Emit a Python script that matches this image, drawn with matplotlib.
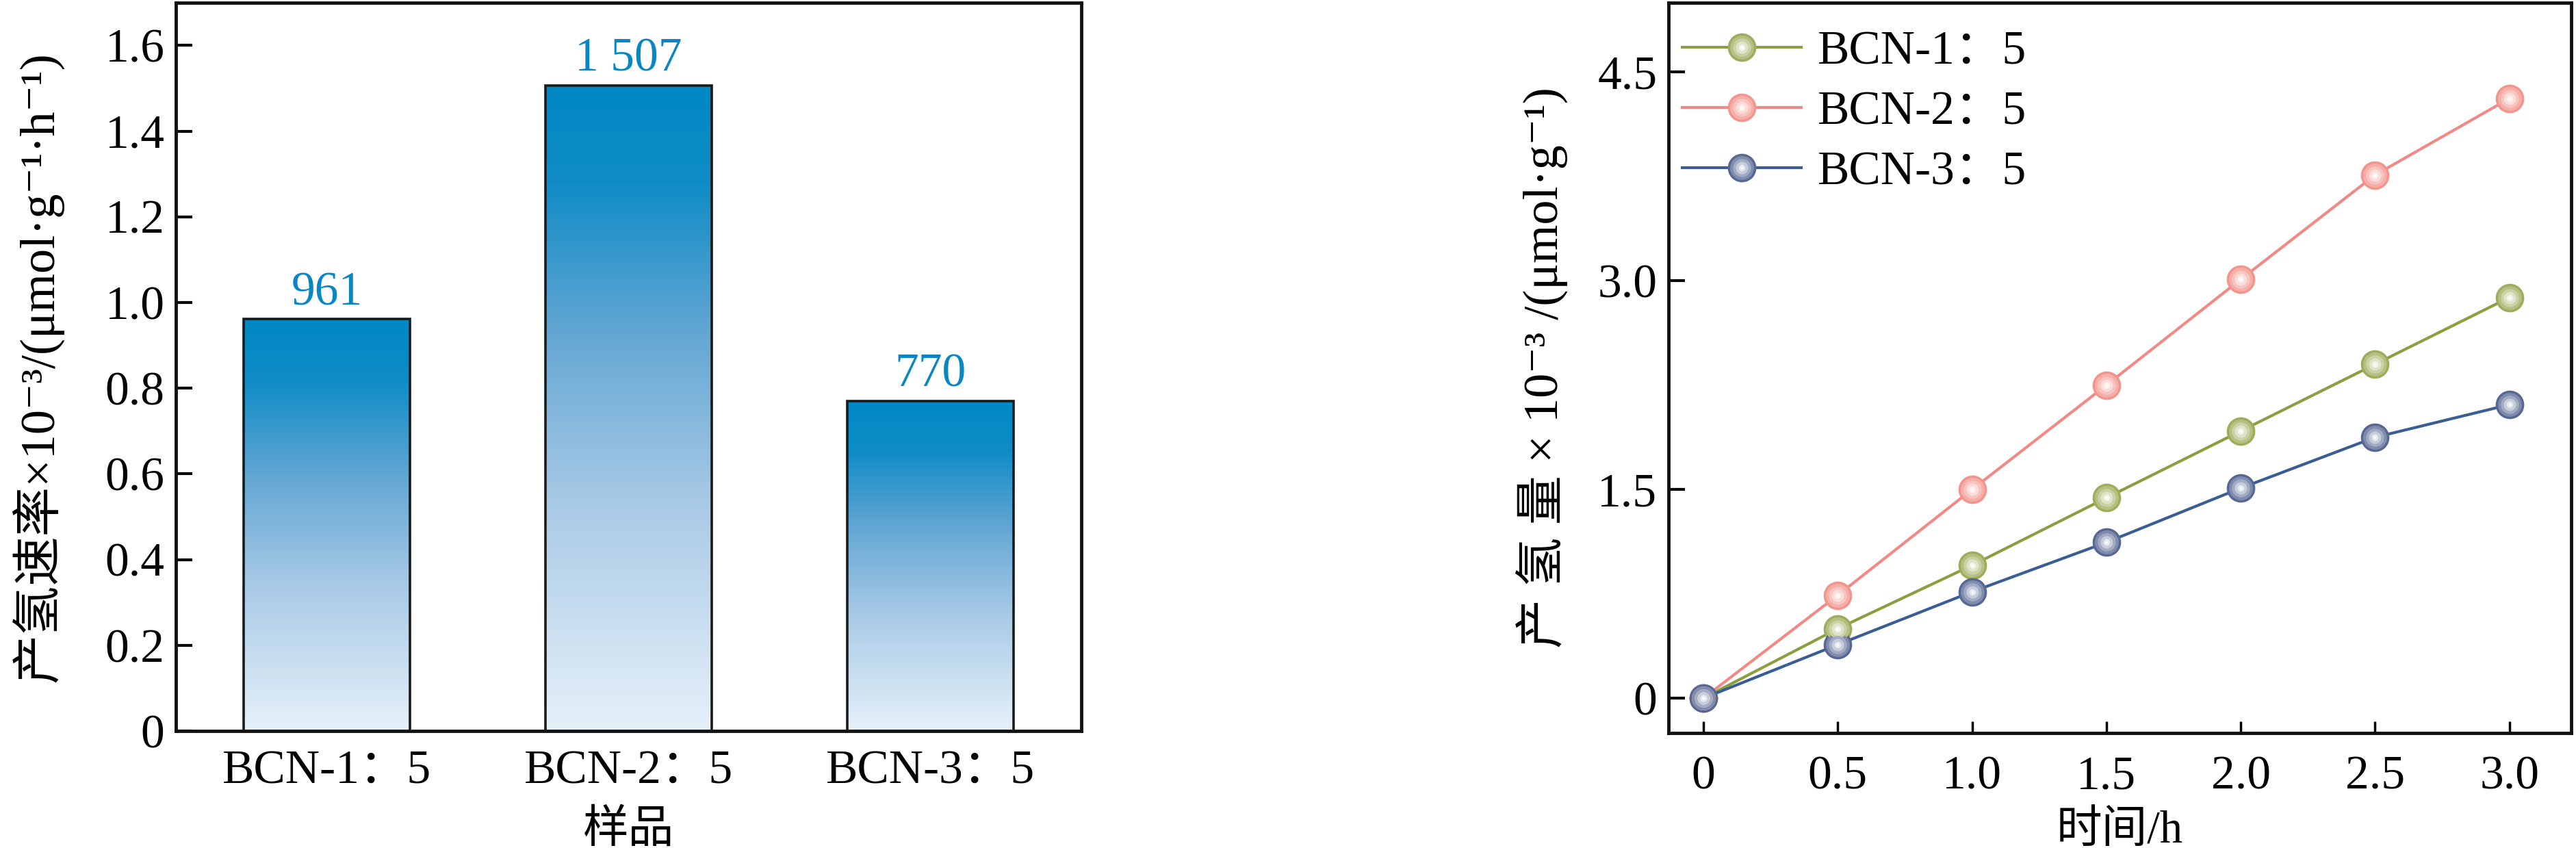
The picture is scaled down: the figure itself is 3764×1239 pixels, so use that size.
import numpy as np
import matplotlib
matplotlib.use("Agg")
import matplotlib.pyplot as plt
from matplotlib.colors import LinearSegmentedColormap, to_rgb
from matplotlib.legend_handler import HandlerTuple

plt.rcParams['font.family'] = ['Liberation Serif', 'Noto Sans CJK SC', 'DejaVu Serif']
plt.rcParams['axes.unicode_minus'] = False

# bar chart data
samples = ['BCN-1：5', 'BCN-2：5', 'BCN-3：5']
rates = [0.961, 1.507, 0.770]
rate_labels = ['961', '1 507', '770']

# hydrogen evolution vs time
hours = [0, 0.5, 1.0, 1.5, 2.0, 2.5, 3.0]
bcn1 = [0, 0.50, 0.955, 1.44, 1.92, 2.40, 2.88]
bcn2 = [0, 0.74, 1.50, 2.25, 3.01, 3.76, 4.31]
bcn3 = [0, 0.385, 0.765, 1.12, 1.51, 1.875, 2.11]
series_names = ['BCN-1：5', 'BCN-2：5', 'BCN-3：5']

line_colors = ['#8aa040', '#f08a86', '#3a5d92']
ball_colors = ['#a3b063', '#f29a92', '#5f6f99']

fig = plt.figure(figsize=(37.64, 12.39), dpi=100)
ax1 = fig.add_axes([0.0683, 0.138, 0.3515, 0.859])
ax2 = fig.add_axes([0.6477, 0.1356, 0.3504, 0.8614])

tick_fs = 50
label_fs = 48

# ---- left: bars with vertical gradient ----
grad_cmap = LinearSegmentedColormap.from_list(
    'bluegrad',
    [(0.0, '#e6f1f9'), (0.35, '#a9cae6'), (0.62, '#62a6d3'),
     (0.85, '#0f8cc6'), (1.0, '#0088c4')])
x = np.arange(len(samples))
bars = ax1.bar(x, rates, width=0.55, facecolor='none', edgecolor='#1a1a1a',
               linewidth=2.6, zorder=3)
grad = np.linspace(0, 1, 256).reshape(-1, 1)
for b in bars:
    bx, by, bw, bh = b.get_x(), b.get_y(), b.get_width(), b.get_height()
    im = ax1.imshow(grad, cmap=grad_cmap, origin='lower', aspect='auto',
                    extent=[bx, bx + bw, by, by + bh], zorder=2)
    im.set_clip_path(b)

for xi, v, lab in zip(x, rates, rate_labels):
    ax1.text(xi, v + 0.01, lab, ha='center', va='bottom', color='#0a86c2',
             fontsize=tick_fs)

ax1.set_xlim(-0.5, 2.5)
ax1.set_ylim(0, 1.7)
ax1.set_xticks(x)
ax1.set_xticklabels(samples)
ax1.set_yticks(np.arange(0, 1.61, 0.2))
ax1.set_yticklabels(['0'] + [f'{v:.1f}' for v in np.arange(0.2, 1.61, 0.2)])
ax1.tick_params(axis='y', direction='in', length=17, width=3, labelsize=tick_fs, pad=12)
ax1.tick_params(axis='x', length=0, labelsize=tick_fs, pad=20)
ax1.set_xlabel('样品', fontsize=label_fs, labelpad=17)
ax1.set_ylabel('产氢速率×10⁻³/(μmol·g⁻¹·h⁻¹)', fontsize=52, labelpad=44)

# ---- right: lines with ball markers ----
def mix(c, t):
    r = np.array(to_rgb(c))
    return tuple(r + (1 - r) * t)

handles = []
for ys, lc, bc, name in zip([bcn1, bcn2, bcn3], line_colors, ball_colors, series_names):
    base, = ax2.plot(hours, ys, color=lc, linewidth=3, marker='o', markersize=30,
                     markerfacecolor=mix(bc, -0.05), markeredgewidth=0, zorder=3)
    parts = [base]
    for i, (s, t) in enumerate([(25, 0.2), (19, 0.42), (13, 0.65), (7, 0.85), (3, 0.97)]):
        h, = ax2.plot(hours, ys, linestyle='none', marker='o', markersize=s,
                      markerfacecolor=mix(bc, t), markeredgewidth=0, zorder=4 + i)
        parts.append(h)
    handles.append(tuple(parts))

ax2.legend(handles, series_names, handler_map={tuple: HandlerTuple(ndivide=1, pad=0)},
           loc='upper left', bbox_to_anchor=(-0.032, 1.02), frameon=False,
           fontsize=tick_fs, handlelength=2.5, handletextpad=0.35, labelspacing=0.35)

ax2.set_xlim(-0.13, 3.23)
ax2.set_ylim(-0.25, 5.0)
ax2.set_xticks(hours)
ax2.set_xticklabels(['0', '0.5', '1.0', '1.5', '2.0', '2.5', '3.0'])
ax2.set_yticks([0, 1.5, 3.0, 4.5])
ax2.set_yticklabels(['0', '1.5', '3.0', '4.5'])
ax2.tick_params(axis='y', direction='in', length=17, width=3, labelsize=tick_fs, pad=12)
ax2.tick_params(axis='x', direction='in', length=12, width=2.5, labelsize=tick_fs, pad=24)
ax2.set_xlabel('时间/h', fontsize=label_fs, labelpad=12)
ax2.set_ylabel('产 氢 量 × 10⁻³ /(μmol·g⁻¹)', fontsize=52, labelpad=30)

for ax in (ax1, ax2):
    for sp in ax.spines.values():
        sp.set_linewidth(3.5)
        sp.set_color('#111111')

fig.savefig('out.png', dpi=100)
